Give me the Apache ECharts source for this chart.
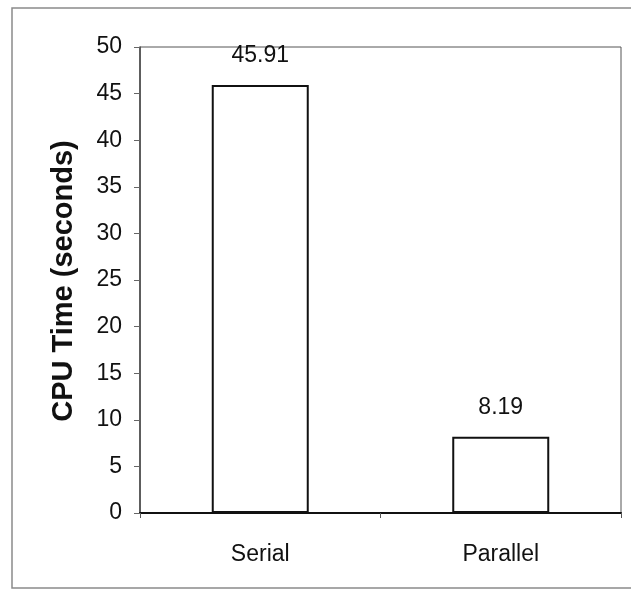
<!DOCTYPE html>
<html>
<head>
<meta charset="utf-8">
<script src="https://cdn.jsdelivr.net/npm/echarts@6/dist/echarts.min.js"></script>
<style>
  html, body { margin: 0; padding: 0; background: #ffffff; }
  #chart { width: 631px; height: 590px; }
</style>
</head>
<body>
<div id="chart"></div>
<script>
// CPU time of the serial and parallel runs
const categories = ['Serial', 'Parallel'];
const cpuSeconds = [45.91, 8.19];
const yTicks = [0, 5, 10, 15, 20, 25, 30, 35, 40, 45, 50];
const yTitle = 'CPU Time (seconds)';

const FONT = '"Liberation Sans", Arial, sans-serif';

const chart = echarts.init(document.getElementById('chart'), null, { renderer: 'canvas' });

chart.setOption({
  backgroundColor: '#ffffff',
  animation: false,
  grid: {
    left: 140, top: 47, right: 10, bottom: 77,
    show: true,
    borderColor: '#555555',
    borderWidth: 1,
    backgroundColor: 'transparent'
  },
  graphic: [
    {
      type: 'rect',
      shape: { x: 12, y: 8, width: 660, height: 580 },
      style: { fill: 'none', stroke: '#8a8a8a', lineWidth: 1.5 },
      silent: true
    },
    {
      type: 'text',
      x: 64,
      y: 281,
      rotation: Math.PI / 2,
      style: {
        text: yTitle,
        font: 'bold 29px ' + FONT,
        fill: '#111111',
        textAlign: 'center',
        textVerticalAlign: 'middle'
      },
      silent: true
    }
  ],
  xAxis: {
    type: 'category',
    data: categories,
    boundaryGap: true,
    axisLine: { show: true, lineStyle: { color: '#111111', width: 2 } },
    axisTick: { show: true, alignWithLabel: false, length: 5, lineStyle: { color: '#555555' } },
    axisLabel: { margin: 30, fontFamily: FONT, fontSize: 23, color: '#111111' },
    splitLine: { show: false }
  },
  yAxis: {
    type: 'value',
    min: yTicks[0],
    max: yTicks[yTicks.length - 1],
    interval: yTicks[1] - yTicks[0],
    axisLine: { show: true, lineStyle: { color: '#444444', width: 1.5 } },
    axisTick: { show: true, inside: false, length: 6, lineStyle: { color: '#666666' } },
    axisLabel: { margin: 18, fontFamily: FONT, fontSize: 23, color: '#111111' },
    splitLine: { show: false }
  },
  series: [{
    type: 'bar',
    data: cpuSeconds,
    barWidth: 97,
    itemStyle: { color: '#ffffff', borderColor: '#111111', borderWidth: 2 },
    label: {
      show: true,
      position: 'top',
      distance: 18,
      fontFamily: FONT,
      fontSize: 23,
      color: '#111111',
      formatter: (p) => p.value.toFixed(2)
    }
  }]
});
</script>
</body>
</html>
